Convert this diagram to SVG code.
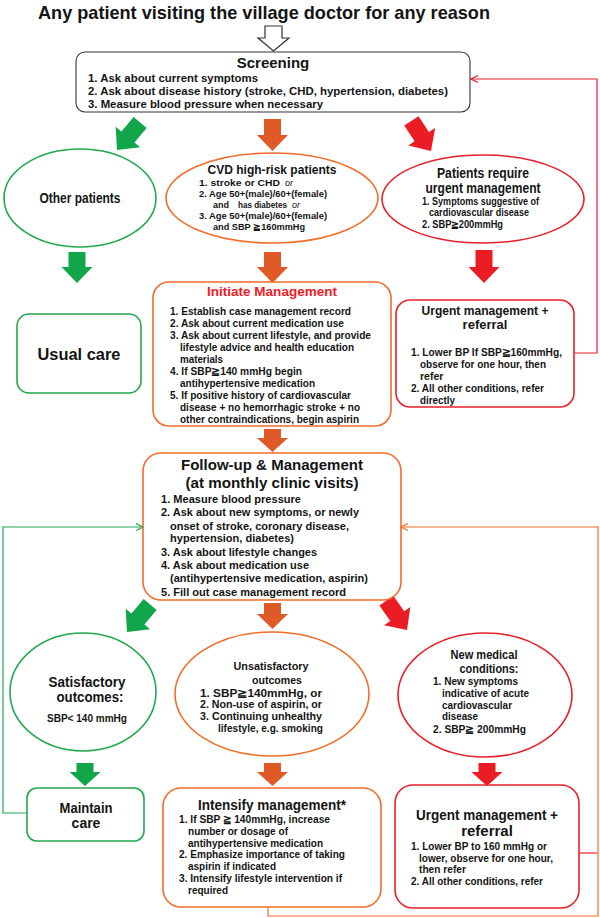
<svg xmlns="http://www.w3.org/2000/svg" width="600" height="918" viewBox="0 0 600 918">
<style>
text{font-family:"Liberation Sans",Arial,Helvetica,sans-serif;font-weight:bold;fill:#141414}
.m{text-anchor:middle}
.it{font-style:italic;font-weight:normal}
.g{fill:none;stroke:#22a84e;stroke-width:1.6}
.o{fill:none;stroke:#f26c2a;stroke-width:1.6}
.r{fill:none;stroke:#e8202a;stroke-width:1.6}
.k{fill:#fff;stroke:#333;stroke-width:1.1}
.ga{fill:#12a64a}
.oa{fill:#df5a26}
.ra{fill:#ec1c24}
.cg{fill:none;stroke:#22a84e;stroke-width:1.2}
.co{fill:none;stroke:#f26c2a;stroke-width:1.2}
.cr{fill:none;stroke:#e8202a;stroke-width:1.2}
.s9{font-size:9px}.s10{font-size:10px}.s105{font-size:10.5px}.s11{font-size:11px}.s115{font-size:11.5px}
</style>
<defs>
<path id="diag" d="M-8.5,-36 H8.5 V-17 H16 L0,0 L-16,-17 H-8.5 Z"/>
<marker id="mg" markerWidth="9" markerHeight="9" refX="8" refY="4.5" orient="auto" markerUnits="userSpaceOnUse"><path d="M1,1 L8,4.5 L1,8" fill="none" stroke="#22a84e" stroke-width="1.2"/></marker>
<marker id="mo" markerWidth="9" markerHeight="9" refX="8" refY="4.5" orient="auto" markerUnits="userSpaceOnUse"><path d="M1,1 L8,4.5 L1,8" fill="none" stroke="#f26c2a" stroke-width="1.2"/></marker>
<marker id="mr" markerWidth="9" markerHeight="9" refX="8" refY="4.5" orient="auto" markerUnits="userSpaceOnUse"><path d="M1,1 L8,4.5 L1,8" fill="none" stroke="#e8202a" stroke-width="1.2"/></marker>
</defs>
<rect width="600" height="918" fill="#fff"/>

<text x="38" y="19" font-size="19" textLength="452" lengthAdjust="spacingAndGlyphs">Any patient visiting the village doctor for any reason</text>

<g id="connectors">
<path d="M265,26 H282 V38 H289 L273.5,51 L258,38 H265 Z" fill="#fff" stroke="#333" stroke-width="1.2"/>
<use href="#diag" class="ga" transform="translate(117,150) rotate(40)"/>
<path class="oa" d="M264,119 H281 V135 H288 L272.5,151 L257,135 H264 Z"/>
<use href="#diag" class="ra" transform="translate(431,151) rotate(-33)"/>
<path class="ga" d="M68.5,252 H85.5 V267 H92.5 L77,283 L61.5,267 H68.5 Z"/>
<path class="oa" d="M264,252 H281 V267 H288 L272.5,283 L257,267 H264 Z"/>
<path class="ra" d="M475.5,250 H492.5 V267 H499.5 L484,283 L468.5,267 H475.5 Z"/>
<path class="oa" d="M264,429 H281 V438 H288 L272.5,452 L257,438 H264 Z"/>
<use href="#diag" class="ga" transform="translate(127,632) rotate(40)"/>
<path class="oa" d="M264,603 H281 V614 H288 L272.5,629 L257,614 H264 Z"/>
<use href="#diag" class="ra" transform="translate(407,630) rotate(-35)"/>
<path class="ga" d="M76.5,763 H93.5 V772 H100.5 L85,786 L69.5,772 H76.5 Z"/>
<path class="oa" d="M264,763 H281 V772 H288 L272.5,786 L257,772 H264 Z"/>
<path class="ra" d="M478.5,763 H495.5 V772 H502.5 L487,786 L471.5,772 H478.5 Z"/>
<polyline class="cr" points="574,353 597,353 597,79 471,79" marker-end="url(#mr)"/>
<polyline class="cg" points="27,813 3,813 3,527 143,527" marker-end="url(#mg)"/>
<polyline class="co" points="268,907 268,916 598,916 598,527 401,527" marker-end="url(#mo)"/>
<polyline class="cr" points="579,853 597,853"/>
</g>

<g id="screening">
<rect class="k" x="76" y="52" width="394" height="60" rx="9"/>
<text class="m" x="273" y="68" font-size="15">Screening</text>
<text class="s115" x="88" y="82" textLength="170" lengthAdjust="spacingAndGlyphs">1. Ask about current symptoms</text>
<text class="s115" x="88" y="95" textLength="360" lengthAdjust="spacingAndGlyphs">2. Ask about disease history (stroke, CHD, hypertension, diabetes)</text>
<text class="s115" x="88" y="108" textLength="235" lengthAdjust="spacingAndGlyphs">3. Measure blood pressure when necessary</text>
</g>

<g id="other-patients">
<ellipse class="g" cx="80" cy="198" rx="76" ry="49"/>
<text class="m" x="80" y="203" font-size="14" textLength="81" lengthAdjust="spacingAndGlyphs">Other patients</text>
</g>

<g id="cvd-high-risk">
<ellipse class="o" cx="272" cy="198" rx="106" ry="45"/>
<text class="m" x="272" y="174" font-size="13.5" textLength="129" lengthAdjust="spacingAndGlyphs">CVD high-risk patients</text>
<text class="s9" x="199" y="186" textLength="81" lengthAdjust="spacingAndGlyphs">1. stroke or CHD</text>
<text class="s9 it" x="285" y="186">or</text>
<text class="s9" x="199" y="197" textLength="128" lengthAdjust="spacingAndGlyphs">2. Age 50+(male)/60+(female)</text>
<text class="s9" x="213" y="208">and</text>
<text class="s9" x="238" y="208" textLength="49" lengthAdjust="spacingAndGlyphs">has diabetes</text>
<text class="s9 it" x="292" y="208">or</text>
<text class="s9" x="199" y="219" textLength="128" lengthAdjust="spacingAndGlyphs">3. Age 50+(male)/60+(female)</text>
<text class="s9" x="213" y="230" textLength="92" lengthAdjust="spacingAndGlyphs">and SBP ≧160mmHg</text>
</g>

<g id="urgent-patients">
<ellipse class="r" cx="483" cy="199" rx="101" ry="44"/>
<text class="m" x="483" y="178" font-size="14" textLength="92" lengthAdjust="spacingAndGlyphs">Patients require</text>
<text class="m" x="483" y="193" font-size="14" textLength="115" lengthAdjust="spacingAndGlyphs">urgent management</text>
<text class="s10" x="422" y="205" textLength="117" lengthAdjust="spacingAndGlyphs">1. Symptoms suggestive of</text>
<text class="s10" x="429" y="216" textLength="100" lengthAdjust="spacingAndGlyphs">cardiovascular disease</text>
<text class="s10" x="422" y="228" textLength="81" lengthAdjust="spacingAndGlyphs">2. SBP≧200mmHg</text>
</g>

<g id="usual-care">
<rect class="g" x="17" y="314" width="124" height="79" rx="12"/>
<text class="m" x="79" y="360" font-size="17" textLength="83" lengthAdjust="spacingAndGlyphs">Usual care</text>
</g>

<g id="initiate-management">
<rect class="o" x="153" y="282" width="238" height="144" rx="16"/>
<text class="m" x="272" y="296" font-size="13.5" style="fill:#ee1c25" textLength="130" lengthAdjust="spacingAndGlyphs">Initiate Management</text>
<text class="s105" x="170" y="315" textLength="181" lengthAdjust="spacingAndGlyphs">1. Establish case management record</text>
<text class="s105" x="170" y="327" textLength="174" lengthAdjust="spacingAndGlyphs">2. Ask about current medication use</text>
<text class="s105" x="170" y="339" textLength="201" lengthAdjust="spacingAndGlyphs">3. Ask about current lifestyle, and provide</text>
<text class="s105" x="180" y="351" textLength="174" lengthAdjust="spacingAndGlyphs">lifestyle advice and health education</text>
<text class="s105" x="180" y="363" textLength="43" lengthAdjust="spacingAndGlyphs">materials</text>
<text class="s105" x="170" y="375" textLength="132" lengthAdjust="spacingAndGlyphs">4. If SBP≧140 mmHg begin</text>
<text class="s105" x="180" y="387" textLength="135" lengthAdjust="spacingAndGlyphs">antihypertensive medication</text>
<text class="s105" x="170" y="399" textLength="181" lengthAdjust="spacingAndGlyphs">5. If positive history of cardiovascular</text>
<text class="s105" x="180" y="411" textLength="180" lengthAdjust="spacingAndGlyphs">disease + no hemorrhagic stroke + no</text>
<text class="s105" x="180" y="423" textLength="179" lengthAdjust="spacingAndGlyphs">other contraindications, begin aspirin</text>
</g>

<g id="urgent-referral-1">
<rect class="r" x="396" y="300" width="178" height="107" rx="14"/>
<text class="m" x="485" y="315" font-size="13" textLength="127" lengthAdjust="spacingAndGlyphs">Urgent management +</text>
<text class="m" x="485" y="329" font-size="13">referral</text>
<text class="s105" x="411" y="356" textLength="151" lengthAdjust="spacingAndGlyphs">1. Lower BP If SBP≧160mmHg,</text>
<text class="s105" x="420" y="368" textLength="126" lengthAdjust="spacingAndGlyphs">observe for one hour, then</text>
<text class="s105" x="420" y="380">refer</text>
<text class="s105" x="411" y="392" textLength="133" lengthAdjust="spacingAndGlyphs">2. All other conditions, refer</text>
<text class="s105" x="420" y="404" textLength="35" lengthAdjust="spacingAndGlyphs">directly</text>
</g>

<g id="follow-up">
<rect class="o" x="143" y="453" width="258" height="147" rx="18"/>
<text class="m" x="272" y="470" font-size="15" textLength="182" lengthAdjust="spacingAndGlyphs">Follow-up &amp; Management</text>
<text class="m" x="272" y="488" font-size="15" textLength="173" lengthAdjust="spacingAndGlyphs">(at monthly clinic visits)</text>
<text class="s11" x="161" y="503" textLength="140" lengthAdjust="spacingAndGlyphs">1. Measure blood pressure</text>
<text class="s11" x="161" y="516" textLength="198" lengthAdjust="spacingAndGlyphs">2. Ask about new symptoms, or newly</text>
<text class="s11" x="170" y="530" textLength="179" lengthAdjust="spacingAndGlyphs">onset of stroke, coronary disease,</text>
<text class="s11" x="170" y="542" textLength="124" lengthAdjust="spacingAndGlyphs">hypertension, diabetes)</text>
<text class="s11" x="161" y="556" textLength="156" lengthAdjust="spacingAndGlyphs">3. Ask about lifestyle changes</text>
<text class="s11" x="161" y="569" textLength="148" lengthAdjust="spacingAndGlyphs">4. Ask about medication use</text>
<text class="s11" x="170" y="582" textLength="198" lengthAdjust="spacingAndGlyphs">(antihypertensive medication, aspirin)</text>
<text class="s11" x="161" y="596" textLength="185" lengthAdjust="spacingAndGlyphs">5. Fill out case management record</text>
</g>

<g id="satisfactory">
<ellipse class="g" cx="83" cy="692" rx="73" ry="59"/>
<text class="m" x="87" y="687" font-size="14.5" textLength="77" lengthAdjust="spacingAndGlyphs">Satisfactory</text>
<text class="m" x="90" y="702" font-size="14.5" textLength="67" lengthAdjust="spacingAndGlyphs">outcomes:</text>
<text class="m s105" x="87" y="722" textLength="80" lengthAdjust="spacingAndGlyphs">SBP&lt; 140 mmHg</text>
</g>

<g id="unsatisfactory">
<ellipse class="o" cx="272" cy="694" rx="97" ry="62"/>
<text class="m" x="271" y="670" font-size="11.5" textLength="75" lengthAdjust="spacingAndGlyphs">Unsatisfactory</text>
<text class="m" x="277" y="684" font-size="11.5" textLength="50" lengthAdjust="spacingAndGlyphs">outcomes</text>
<text class="s105" x="200" y="697" textLength="122" lengthAdjust="spacingAndGlyphs">1. SBP≧140mmHg, or</text>
<text class="s105" x="200" y="708" textLength="122" lengthAdjust="spacingAndGlyphs">2. Non-use of aspirin, or</text>
<text class="s105" x="200" y="720" textLength="122" lengthAdjust="spacingAndGlyphs">3. Continuing unhealthy</text>
<text class="s105" x="218" y="732" textLength="105" lengthAdjust="spacingAndGlyphs">lifestyle, e.g. smoking</text>
</g>

<g id="new-conditions">
<ellipse class="r" cx="485" cy="695" rx="87" ry="62"/>
<text class="m" x="484" y="659" font-size="12.5" textLength="67" lengthAdjust="spacingAndGlyphs">New medical</text>
<text class="m" x="489" y="673" font-size="12.5" textLength="59" lengthAdjust="spacingAndGlyphs">conditions:</text>
<text class="s105" x="433" y="685" textLength="85" lengthAdjust="spacingAndGlyphs">1. New symptoms</text>
<text class="s105" x="442" y="697" textLength="87" lengthAdjust="spacingAndGlyphs">indicative of acute</text>
<text class="s105" x="442" y="709" textLength="70" lengthAdjust="spacingAndGlyphs">cardiovascular</text>
<text class="s105" x="442" y="720" textLength="36" lengthAdjust="spacingAndGlyphs">disease</text>
<text class="s105" x="433" y="733" textLength="93" lengthAdjust="spacingAndGlyphs">2. SBP≧ 200mmHg</text>
</g>

<g id="maintain-care">
<rect class="g" x="27" y="788" width="117" height="53" rx="10"/>
<text class="m" x="86" y="813" font-size="14" textLength="53" lengthAdjust="spacingAndGlyphs">Maintain</text>
<text class="m" x="86" y="828" font-size="14">care</text>
</g>

<g id="intensify">
<rect class="o" x="163" y="788" width="218" height="119" rx="18"/>
<text class="m" x="272" y="810" font-size="14" textLength="148" lengthAdjust="spacingAndGlyphs">Intensify management*</text>
<text class="s11" x="179" y="823" textLength="151" lengthAdjust="spacingAndGlyphs">1. If SBP ≧ 140mmHg, increase</text>
<text class="s11" x="188" y="835" textLength="100" lengthAdjust="spacingAndGlyphs">number or dosage of</text>
<text class="s11" x="188" y="847" textLength="135" lengthAdjust="spacingAndGlyphs">antihypertensive medication</text>
<text class="s11" x="179" y="858" textLength="166" lengthAdjust="spacingAndGlyphs">2. Emphasize importance of taking</text>
<text class="s11" x="188" y="870" textLength="88" lengthAdjust="spacingAndGlyphs">aspirin if indicated</text>
<text class="s11" x="179" y="882" textLength="163" lengthAdjust="spacingAndGlyphs">3. Intensify lifestyle intervention if</text>
<text class="s11" x="188" y="894" textLength="40" lengthAdjust="spacingAndGlyphs">required</text>
</g>

<g id="urgent-referral-2">
<rect class="r" x="395" y="785" width="184" height="123" rx="18"/>
<text class="m" x="487" y="820" font-size="15" textLength="142" lengthAdjust="spacingAndGlyphs">Urgent management +</text>
<text class="m" x="487" y="836" font-size="15">referral</text>
<text class="s11" x="411" y="850" textLength="136" lengthAdjust="spacingAndGlyphs">1. Lower BP to 160 mmHg or</text>
<text class="s11" x="419" y="862" textLength="134" lengthAdjust="spacingAndGlyphs">lower, observe for one hour,</text>
<text class="s11" x="419" y="873" textLength="47" lengthAdjust="spacingAndGlyphs">then refer</text>
<text class="s11" x="411" y="885" textLength="132" lengthAdjust="spacingAndGlyphs">2. All other conditions, refer</text>
</g>
</svg>
